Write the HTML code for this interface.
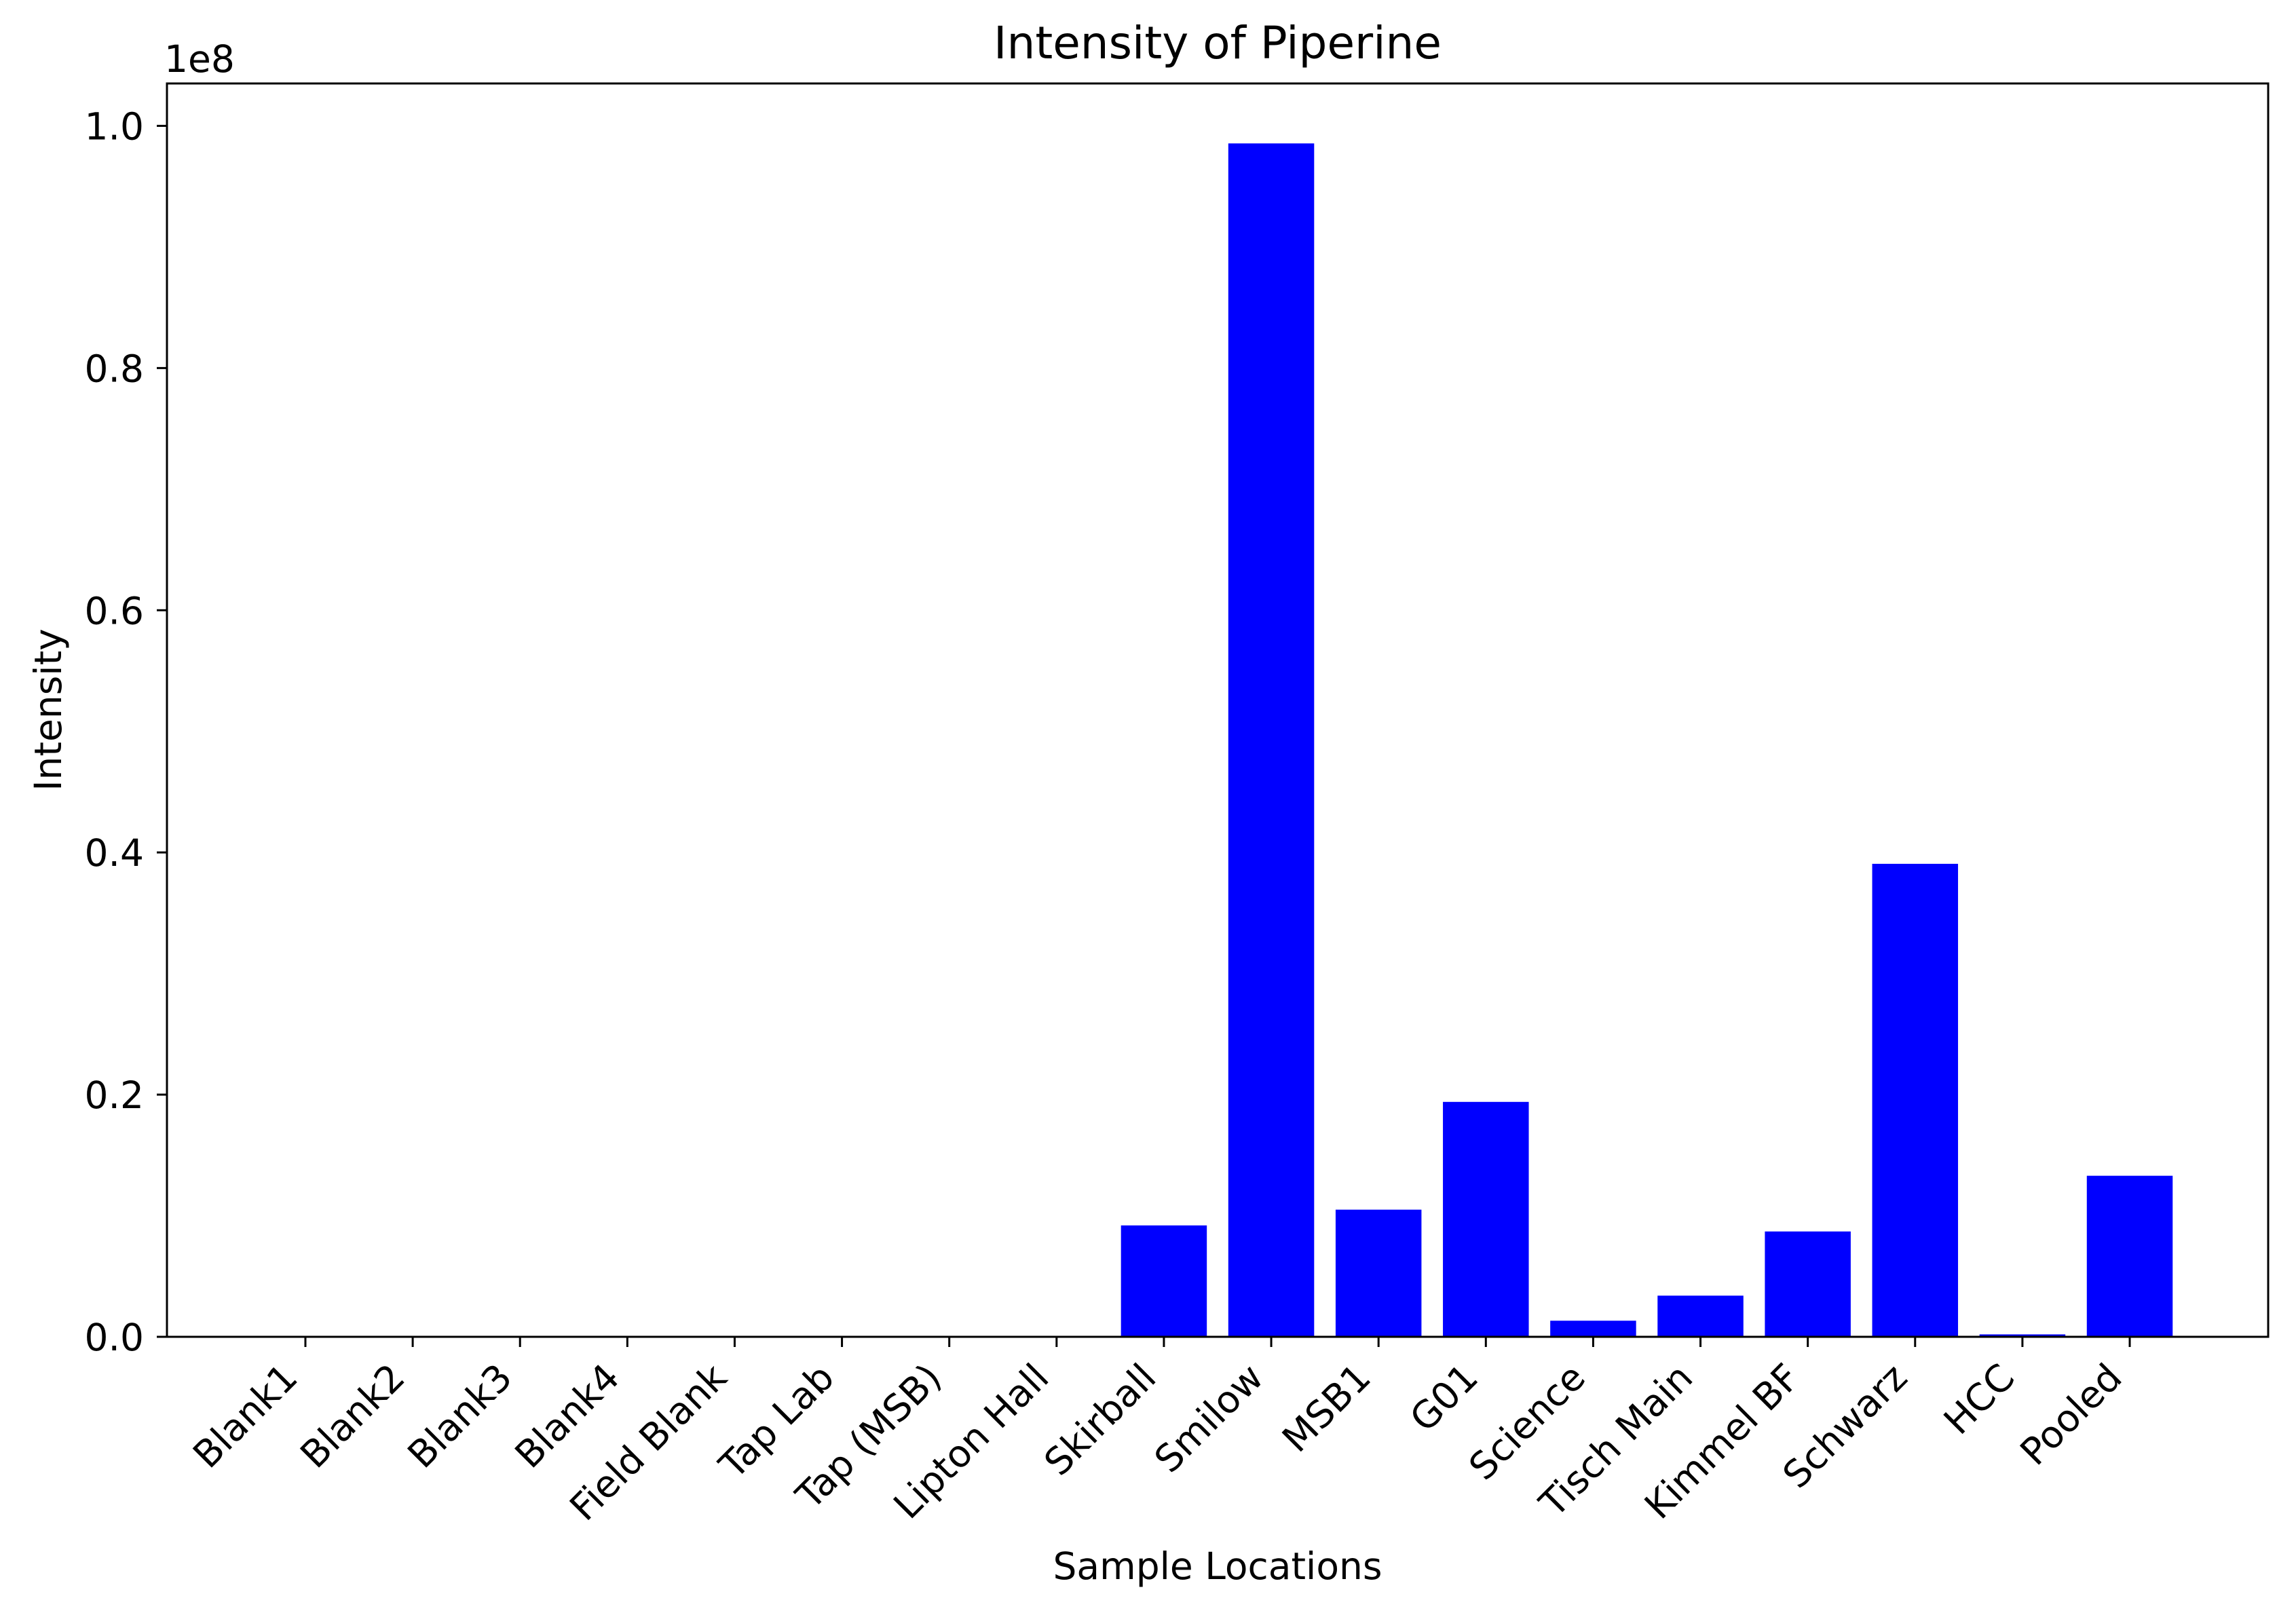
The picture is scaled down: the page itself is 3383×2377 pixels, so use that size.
<!DOCTYPE html>
<html><head><meta charset="utf-8"><style>
html,body{margin:0;padding:0;background:#fff;}
svg{display:block;font-family:"DejaVu Sans","Liberation Sans",sans-serif;}
</style></head><body>
<svg id="chart" width="3383" height="2377" viewBox="0 0 3383 2377" xmlns="http://www.w3.org/2000/svg">
<rect x="0" y="0" width="3383" height="2377" fill="#fff"/>
<g id="bars"></g>
<g id="xticks"></g>
<g id="yticks"></g>
<rect x="246" y="123" width="3096" height="1847" fill="none" stroke="#000" stroke-width="3"/>
<text x="1794" y="86" font-size="66" text-anchor="middle">Intensity of Piperine</text>
<text x="242" y="106" font-size="55">1e8</text>
<text transform="translate(90,1046) rotate(-90)" font-size="55" text-anchor="middle">Intensity</text>
<text x="1794" y="2327" font-size="55" text-anchor="middle">Sample Locations</text>
</svg>
<script>
const categories = ["Blank1","Blank2","Blank3","Blank4","Field Blank","Tap Lab","Tap (MSB)","Lipton Hall","Skirball","Smilow","MSB1","G01","Science","Tisch Main","Kimmel BF","Schwarz","HCC","Pooled"];
const values = [0,0,0,0,0,0,0,0,0.092,0.9855,0.105,0.194,0.0133,0.034,0.087,0.3906,0.002,0.133];
const yTicks = [0,0.2,0.4,0.6,0.8,1.0];
const yTickLabels = ["0.0","0.2","0.4","0.6","0.8","1.0"];

const NS="http://www.w3.org/2000/svg";
const L=246,R=3342,T=123,B=1970;
const xMin=-1.29,xMax=categories.length-1+1.29;
const yMax=1.035;
function xs(v){return L+(v-xMin)/(xMax-xMin)*(R-L);}
function ys(v){return B-v/yMax*(B-T);}
const bw=0.8*(xs(1)-xs(0));
const gb=document.getElementById('bars'),gx=document.getElementById('xticks'),gy=document.getElementById('yticks');
categories.forEach((c,i)=>{
  const cx=xs(i);
  const r=document.createElementNS(NS,'rect');
  r.setAttribute('x',cx-bw/2);r.setAttribute('width',bw);
  r.setAttribute('y',ys(values[i]));r.setAttribute('height',B-ys(values[i]));
  r.setAttribute('fill','#0000ff');
  
  
  gb.appendChild(r);
  const t=document.createElementNS(NS,'line');
  t.setAttribute('x1',cx);t.setAttribute('x2',cx);t.setAttribute('y1',B);t.setAttribute('y2',B+15);
  t.setAttribute('stroke','#000');t.setAttribute('stroke-width','3');
  
  
  gx.appendChild(t);
  const tx=document.createElementNS(NS,'text');
  tx.setAttribute('transform','translate('+(cx-22)+','+(B+50)+') rotate(-45)');
  tx.setAttribute('text-anchor','end');tx.setAttribute('font-size','55');
  tx.setAttribute('dominant-baseline','central');
  tx.textContent=c;
  
  
  gx.appendChild(tx);
});
yTicks.forEach((v,i)=>{
  const y=ys(v);
  const t=document.createElementNS(NS,'line');
  t.setAttribute('x1',L-15);t.setAttribute('x2',L);t.setAttribute('y1',y);t.setAttribute('y2',y);
  t.setAttribute('stroke','#000');t.setAttribute('stroke-width','3');
  
  
  gy.appendChild(t);
  const tx=document.createElementNS(NS,'text');
  tx.setAttribute('x',L-34);tx.setAttribute('y',y+20);
  tx.setAttribute('text-anchor','end');tx.setAttribute('font-size','55');
  tx.textContent=yTickLabels[i];
  
  
  gy.appendChild(tx);
});
</script>
</body></html>
